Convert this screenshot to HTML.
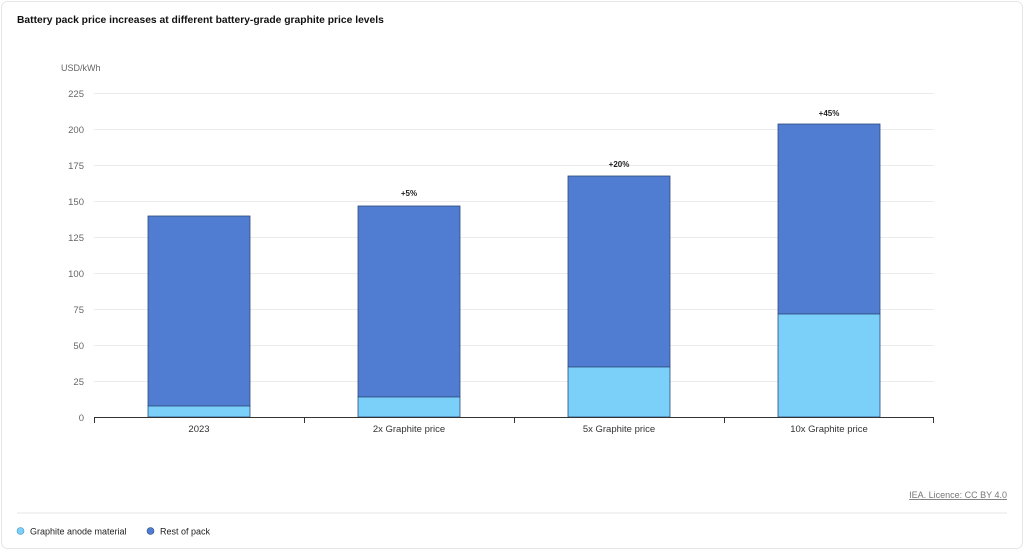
<!DOCTYPE html>
<html><head><meta charset="utf-8"><style>
body{margin:0;background:#fff;font-family:"Liberation Sans",sans-serif}
</style></head><body>
<svg width="1024" height="551" xmlns="http://www.w3.org/2000/svg" font-family="Liberation Sans, sans-serif">
<rect x="1.5" y="1.5" width="1021" height="547" rx="6" fill="#fff" stroke="#e6e6e6"/>
<text x="17" y="23" font-size="10.3" font-weight="bold" fill="#111">Battery pack price increases at different battery-grade graphite price levels</text>
<text x="61" y="71" font-size="9" fill="#666">USD/kWh</text>
<g stroke="#ececec" stroke-width="1">
<line x1="94" x2="934" y1="93.5" y2="93.5"/><line x1="94" x2="934" y1="129.5" y2="129.5"/>
<line x1="94" x2="934" y1="165.5" y2="165.5"/><line x1="94" x2="934" y1="201.5" y2="201.5"/>
<line x1="94" x2="934" y1="237.5" y2="237.5"/><line x1="94" x2="934" y1="273.5" y2="273.5"/>
<line x1="94" x2="934" y1="309.5" y2="309.5"/><line x1="94" x2="934" y1="345.5" y2="345.5"/>
<line x1="94" x2="934" y1="381.5" y2="381.5"/>
</g>
<g font-size="9.5" fill="#666" text-anchor="end">
<text x="84" y="97">225</text><text x="84" y="133">200</text><text x="84" y="169">175</text>
<text x="84" y="205">150</text><text x="84" y="241">125</text><text x="84" y="277">100</text>
<text x="84" y="313">75</text><text x="84" y="349">50</text><text x="84" y="385">25</text><text x="84" y="421">0</text>
</g>
<g stroke="#2d4a7a" stroke-width="0.8">
<rect x="148" y="216" width="102" height="190" fill="#507cd2"/><rect x="148" y="406" width="102" height="11" fill="#7ad0f8"/>
<rect x="358" y="206" width="102" height="191" fill="#507cd2"/><rect x="358" y="397" width="102" height="20" fill="#7ad0f8"/>
<rect x="568" y="176" width="102" height="191" fill="#507cd2"/><rect x="568" y="367" width="102" height="50" fill="#7ad0f8"/>
<rect x="778" y="124" width="102" height="190" fill="#507cd2"/><rect x="778" y="314" width="102" height="103" fill="#7ad0f8"/>
</g>
<g font-size="8" font-weight="bold" fill="#222" text-anchor="middle">
<text x="409" y="196">+5%</text><text x="619" y="167">+20%</text><text x="829" y="116">+45%</text>
</g>
<line x1="94" x2="934" y1="417.5" y2="417.5" stroke="#333"/>
<g stroke="#333"><line x1="94.5" x2="94.5" y1="417" y2="423"/><line x1="304.5" x2="304.5" y1="417" y2="423"/>
<line x1="514.5" x2="514.5" y1="417" y2="423"/><line x1="724.5" x2="724.5" y1="417" y2="423"/><line x1="933.5" x2="933.5" y1="417" y2="423"/></g>
<g font-size="9.5" fill="#333" text-anchor="middle">
<text x="199" y="432">2023</text><text x="409" y="432">2x Graphite price</text>
<text x="619" y="432">5x Graphite price</text><text x="829" y="432">10x Graphite price</text>
</g>
<text x="1007" y="498" font-size="9" fill="#777" text-anchor="end" text-decoration="underline">IEA. Licence: CC BY 4.0</text>
<line x1="17" x2="1007" y1="513" y2="513" stroke="#eee" stroke-width="1.5"/>
<circle cx="20.5" cy="531" r="3.5" fill="#7ad0f8" stroke="#4a90c0" stroke-width="0.6"/>
<text x="30" y="534.5" font-size="9" fill="#222">Graphite anode material</text>
<circle cx="150.5" cy="531" r="3.5" fill="#507cd2" stroke="#2d4a7a" stroke-width="0.6"/>
<text x="160" y="534.5" font-size="9" fill="#222">Rest of pack</text>
</svg>
</body></html>
